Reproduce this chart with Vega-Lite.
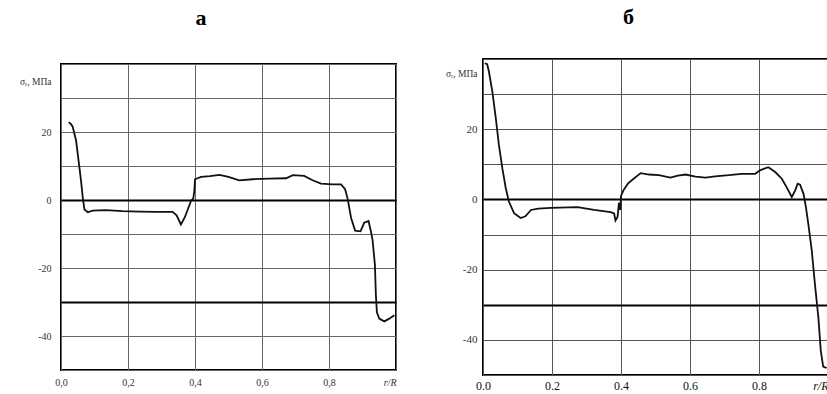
{
  "$schema": "https://vega.github.io/schema/vega-lite/v6.json",
  "padding": {"left": 5, "top": 5, "right": 0, "bottom": 0},
  "background": "white",
  "spacing": 87,
  "bounds": "flush",
  "center": true,
  "config": {
    "font": "Liberation Serif",
    "view": {"stroke": "#000", "strokeWidth": 2},
    "title": {"font": "Liberation Serif", "fontSize": 22, "fontWeight": "bold", "color": "#000", "anchor": "middle", "frame": "bounds"}
  },
  "datasets": {
    "a": [
      {"x": 0.023, "y": 22.9}, {"x": 0.03, "y": 22.3}, {"x": 0.035, "y": 21.5}, {"x": 0.045, "y": 17.5},
      {"x": 0.055, "y": 9.5}, {"x": 0.06, "y": 5.5}, {"x": 0.065, "y": 0.7}, {"x": 0.07, "y": -2.8},
      {"x": 0.08, "y": -3.6}, {"x": 0.094, "y": -3.1}, {"x": 0.134, "y": -3.0}, {"x": 0.184, "y": -3.3},
      {"x": 0.234, "y": -3.4}, {"x": 0.284, "y": -3.5}, {"x": 0.333, "y": -3.5}, {"x": 0.345, "y": -4.5},
      {"x": 0.358, "y": -7.2}, {"x": 0.37, "y": -5.0}, {"x": 0.388, "y": -0.3}, {"x": 0.395, "y": 0.5},
      {"x": 0.398, "y": 2.7}, {"x": 0.4, "y": 6.1}, {"x": 0.418, "y": 6.8}, {"x": 0.445, "y": 7.0},
      {"x": 0.473, "y": 7.4}, {"x": 0.5, "y": 6.8}, {"x": 0.532, "y": 5.8}, {"x": 0.572, "y": 6.1},
      {"x": 0.622, "y": 6.3}, {"x": 0.672, "y": 6.4}, {"x": 0.692, "y": 7.3}, {"x": 0.726, "y": 7.1},
      {"x": 0.751, "y": 5.8}, {"x": 0.776, "y": 4.8}, {"x": 0.811, "y": 4.6}, {"x": 0.836, "y": 4.6},
      {"x": 0.848, "y": 3.2}, {"x": 0.856, "y": 0.2}, {"x": 0.866, "y": -5.3}, {"x": 0.878, "y": -9.0},
      {"x": 0.894, "y": -9.2}, {"x": 0.905, "y": -6.7}, {"x": 0.918, "y": -6.2}, {"x": 0.925, "y": -9.2},
      {"x": 0.93, "y": -11.7}, {"x": 0.937, "y": -19.0}, {"x": 0.94, "y": -28.0}, {"x": 0.943, "y": -33.0},
      {"x": 0.95, "y": -34.9}, {"x": 0.965, "y": -35.7}, {"x": 0.98, "y": -34.9}, {"x": 0.995, "y": -33.9}
    ],
    "b": [
      {"x": 0.005, "y": 38.8}, {"x": 0.012, "y": 38.5}, {"x": 0.017, "y": 36.5}, {"x": 0.027, "y": 30.8},
      {"x": 0.037, "y": 23.2}, {"x": 0.046, "y": 15.6}, {"x": 0.056, "y": 8.9}, {"x": 0.066, "y": 3.2},
      {"x": 0.075, "y": -0.6}, {"x": 0.09, "y": -3.9}, {"x": 0.109, "y": -5.3}, {"x": 0.123, "y": -4.8},
      {"x": 0.139, "y": -3.0}, {"x": 0.16, "y": -2.6}, {"x": 0.197, "y": -2.4}, {"x": 0.274, "y": -2.2},
      {"x": 0.322, "y": -3.0}, {"x": 0.37, "y": -3.6}, {"x": 0.38, "y": -4.0}, {"x": 0.384, "y": -6.0},
      {"x": 0.39, "y": -5.0}, {"x": 0.394, "y": -1.0}, {"x": 0.398, "y": -3.0}, {"x": 0.4, "y": 1.0},
      {"x": 0.407, "y": 2.6}, {"x": 0.42, "y": 4.5}, {"x": 0.433, "y": 5.6}, {"x": 0.457, "y": 7.5},
      {"x": 0.481, "y": 7.1}, {"x": 0.51, "y": 6.9}, {"x": 0.543, "y": 6.2}, {"x": 0.565, "y": 6.8},
      {"x": 0.587, "y": 7.1}, {"x": 0.616, "y": 6.5}, {"x": 0.645, "y": 6.2}, {"x": 0.673, "y": 6.6},
      {"x": 0.712, "y": 6.9}, {"x": 0.75, "y": 7.3}, {"x": 0.789, "y": 7.3}, {"x": 0.803, "y": 8.3},
      {"x": 0.827, "y": 9.2}, {"x": 0.847, "y": 7.8}, {"x": 0.866, "y": 5.9}, {"x": 0.88, "y": 3.5},
      {"x": 0.895, "y": 0.7}, {"x": 0.905, "y": 2.6}, {"x": 0.912, "y": 4.5}, {"x": 0.919, "y": 4.2},
      {"x": 0.929, "y": 1.6}, {"x": 0.936, "y": -2.2}, {"x": 0.943, "y": -7.0}, {"x": 0.953, "y": -14.6},
      {"x": 0.962, "y": -24.0}, {"x": 0.972, "y": -33.5}, {"x": 0.979, "y": -43.0}, {"x": 0.986, "y": -47.6},
      {"x": 0.996, "y": -48.0}
    ]
  },
  "hconcat": [
    {
      "title": {"text": "а", "offset": 29},
      "width": 335,
      "height": 306,
      "data": {"name": "a"},
      "mark": {"type": "line", "color": "#111", "strokeWidth": 1.8, "clip": true},
      "encoding": {
        "x": {
          "field": "x", "type": "quantitative",
          "scale": {"domain": [0, 1], "nice": false, "zero": false},
          "axis": {
            "title": null, "values": [0, 0.2, 0.4, 0.6, 0.8, 1],
            "labelExpr": "datum.value >= 0.99 ? 'r/R' : replace(format(datum.value, '.1f'), '.', ',')",
            "labelFlush": false, "labelOverlap": false, "labelPadding": 7, "labelFontSize": 10, "labelColor": "#333",
            "labelFontStyle": {"condition": {"test": "datum.value >= 0.99", "value": "italic"}, "value": "normal"},
            "labelAlign": {"condition": {"test": "datum.value >= 0.99", "value": "right"}, "value": "center"},
            "ticks": false, "domain": false, "grid": true, "gridColor": "#666", "gridWidth": 1
          }
        },
        "y": {
          "field": "y", "type": "quantitative",
          "scale": {"domain": [-50, 40], "nice": false, "zero": false},
          "axis": {
            "title": null, "values": [-50, -40, -30, -20, -10, 0, 10, 20, 30, 40, 35],
            "labelExpr": "datum.value == 35 ? 'σᵣ, МПа' : ((datum.value == 20 || datum.value == 0 || datum.value == -20 || datum.value == -40) ? (datum.value + '') : '')",
            "labelOverlap": false, "labelFlush": false, "labelPadding": 10, "minExtent": 55, "maxExtent": 55,
            "ticks": false, "domain": false, "grid": true,
            "gridColor": {"condition": {"test": "datum.value == 0 || datum.value == -30", "value": "#000"}, "value": "#666"},
            "gridWidth": {"condition": {"test": "datum.value == 0 || datum.value == -30", "value": 2.2}, "value": 1},
            "gridOpacity": {"condition": {"test": "datum.value == 35", "value": 0}, "value": 1},
            "labelFontSize": {"condition": {"test": "datum.value == 35", "value": 9.5}, "value": 10},
            "labelColor": "#333"
          }
        }
      }
    },
    {
      "title": {"text": "б", "offset": 24},
      "width": 345,
      "height": 316,
      "data": {"name": "b"},
      "mark": {"type": "line", "color": "#111", "strokeWidth": 1.8, "clip": true},
      "encoding": {
        "x": {
          "field": "x", "type": "quantitative",
          "scale": {"domain": [0, 1], "nice": false, "zero": false},
          "axis": {
            "title": null, "values": [0, 0.2, 0.4, 0.6, 0.8, 1],
            "labelExpr": "datum.value >= 0.99 ? 'r/R' : format(datum.value, '.1f')",
            "labelFlush": false, "labelOverlap": false, "labelPadding": 5, "labelFontSize": 12, "labelColor": "#111",
            "labelFontStyle": {"condition": {"test": "datum.value >= 0.99", "value": "italic"}, "value": "normal"},
            "labelAlign": {"condition": {"test": "datum.value >= 0.99", "value": "right"}, "value": "center"},
            "ticks": false, "domain": false, "grid": true, "gridColor": "#555", "gridWidth": 1
          }
        },
        "y": {
          "field": "y", "type": "quantitative",
          "scale": {"domain": [-50, 40], "nice": false, "zero": false},
          "axis": {
            "title": null, "values": [-50, -40, -30, -20, -10, 0, 10, 20, 30, 40, 36],
            "labelExpr": "datum.value == 36 ? 'σᵣ, МПа' : ((datum.value == 20 || datum.value == 0 || datum.value == -20 || datum.value == -40) ? (datum.value + '') : '')",
            "labelOverlap": false, "labelFlush": false, "labelPadding": 6, "minExtent": 54, "maxExtent": 54,
            "ticks": false, "domain": false, "grid": true,
            "gridColor": {"condition": {"test": "datum.value == 0 || datum.value == -30", "value": "#000"}, "value": "#555"},
            "gridWidth": {"condition": {"test": "datum.value == 0 || datum.value == -30", "value": 2.2}, "value": 1},
            "gridOpacity": {"condition": {"test": "datum.value == 36", "value": 0}, "value": 1},
            "labelFontSize": {"condition": {"test": "datum.value == 36", "value": 9.5}, "value": 11},
            "labelColor": "#333"
          }
        }
      }
    }
  ]
}
